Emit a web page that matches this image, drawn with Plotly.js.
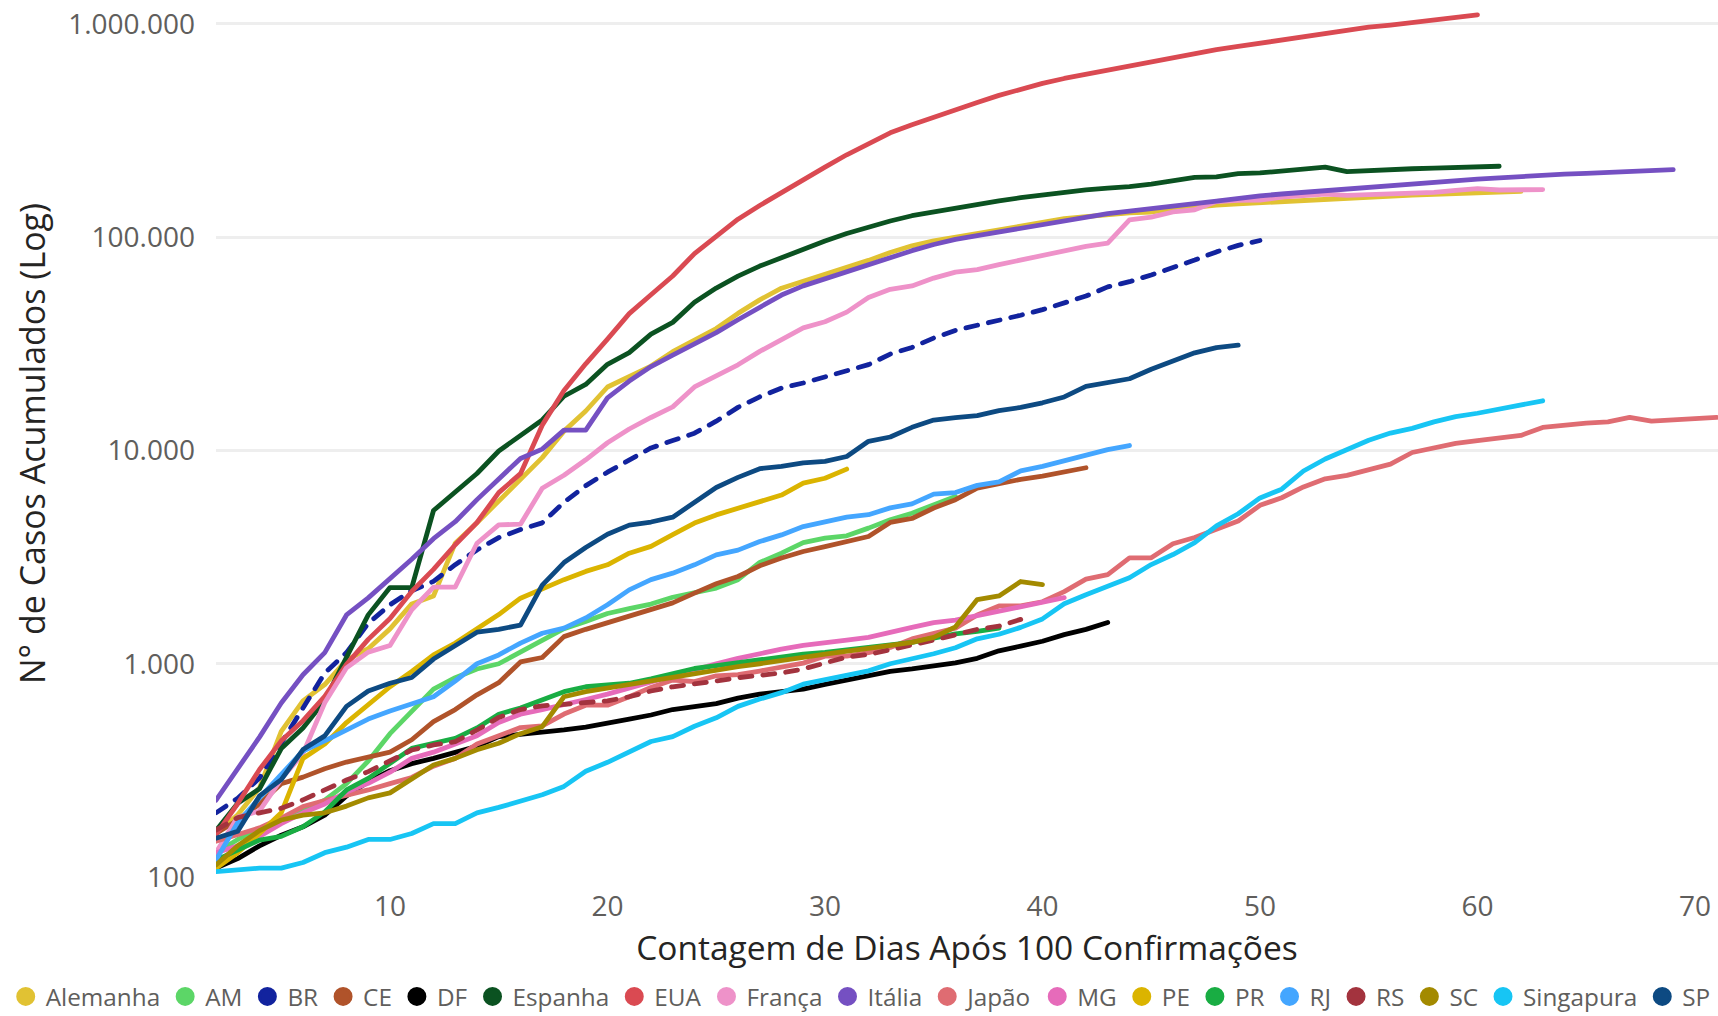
<!DOCTYPE html>
<html>
<head>
<meta charset="utf-8">
<script src="https://cdn.plot.ly/plotly-3.0.1.min.js"></script>
<style>
html,body{margin:0;padding:0;background:#ffffff;}
#chart{width:1718px;height:1016px;}
#chart .scatterlayer .js-line{stroke-linecap:round;stroke-linejoin:round;}
</style>
</head>
<body>
<div id="chart"></div>
<script>
// Day count of the first value in every series (x = day after 100 confirmations)
const START_DAY = 2;

// Cumulative confirmed cases, one value per day starting at START_DAY
const alemanha = [159,196,262,482,670,799,1040,1176,1457,1908,2078,3675,4585,5795,7272,9257,12327,15320,19848,22213,24873,29056,32986,37323,43938,50871,57695,62095,66885,71808,77872,84794,91159,96092,100123,103374,107663,113296,118181,122171,124908,127854,130072,131359,134753,137698,141397,143342,145184,147065,148291,150648,153129,154999,156513,157770,158758,159912,161539,163009,164077];
const am = [130,150,168,188,205,229,274,350,470,600,760,860,945,1000,1130,1290,1460,1580,1720,1815,1905,2050,2144,2265,2479,2985,3300,3700,3880,3980,4325,4730,5083,5560,6080];
const br = [200,234,291,428,621,904,1128,1546,1891,2201,2433,2915,3417,3904,4256,4579,5717,6836,7910,9056,10278,11130,12056,13717,15927,17857,19638,20727,22169,23430,25262,28320,30425,33682,36599,38654,40581,43079,45757,49492,52995,58509,61888,66501,71886,78162,85380,91589,96559];
const ce = [160,185,220,274,294,322,346,365,385,440,535,610,715,815,1020,1070,1340,1450,1560,1660,1790,1930,2144,2370,2565,2880,3130,3360,3545,3740,3950,4600,4800,5375,5880,6660,7015,7325,7580,7900,8300];
const df = [110,122,140,157,172,195,240,280,315,340,360,385,410,455,465,478,490,505,525,550,575,610,630,650,690,720,740,760,800,840,875,920,945,975,1010,1060,1150,1210,1275,1370,1450,1560];
const espanha = [165,222,259,400,500,673,1073,1695,2277,2277,5232,6391,7798,9942,11748,13910,17963,20410,25374,28768,35136,39885,49515,57786,65719,73235,80110,87956,95923,104118,112065,119199,126168,131646,136675,141942,148220,153222,158273,163027,166831,170099,172541,177644,184948,190839,191726,198674,200210,204178,208389,213024,202990,205905,207634,209465,210773,212917,213435,215216];
const eua = [158,221,319,435,541,704,994,1301,1630,2183,2770,3613,4596,6344,7787,13148,19101,25493,33276,43847,53740,65778,83836,101657,121465,140909,161831,188172,213242,243622,275367,308650,336802,366317,397121,428654,462780,496535,526396,555313,580619,607670,636350,667592,699706,732197,759086,784326,811865,840351,869170,905358,938154,965785,988197,1012582,1039909,1069424,1103461];
const franca = [130,191,204,288,380,656,957,1134,1217,1792,2289,2289,3672,4480,4513,6650,7652,9043,10871,12612,14282,16018,19856,22304,25233,29155,32964,37575,40174,44550,52128,56989,59105,64338,68605,70478,74390,78167,82048,86334,90676,93790,120633,124298,131361,134582,147091,149130,149149,154097,156480,159297,157125,158303,159952,161644,162220,165963,169053,166543,167299,167305];
const italia = [229,322,453,655,888,1128,1694,2036,2502,3089,3858,4636,5883,7375,9172,10149,12462,12462,17660,21157,24747,27980,31506,35713,41035,47021,53578,59138,63927,69176,74386,80589,86498,92472,97689,101739,105792,110574,115242,119827,124632,128948,132547,135586,139422,143626,147577,152271,156363,159516,162488,165155,168941,172434,175925,178972,181228,183957,187327,189973,192994,195351,197675,199414,201505,203591,205463,207428];
const japao = [147,159,170,189,214,228,241,256,274,293,331,360,420,461,502,511,581,639,639,701,773,839,825,878,889,924,963,1007,1086,1086,1128,1193,1307,1387,1468,1693,1866,1866,1953,2178,2495,2617,3139,3139,3654,3906,4257,4667,5530,6005,6748,7370,7645,8100,8626,9787,10296,10797,11135,11512,11772,12829,13182,13441,13614,14300,13740,13900,14090,14300];
const mg = [130,140,155,178,200,220,250,275,310,360,385,420,460,530,580,610,640,680,720,770,820,880,935,1000,1060,1120,1170,1220,1250,1290,1330,1410,1480,1560,1600,1680,1760,1850,1950,2040];
const pe = [110,130,160,200,360,420,530,640,780,920,1100,1250,1450,1700,2030,2250,2480,2710,2910,3300,3550,4030,4570,4990,5360,5750,6180,7030,7410,8180];
const pr = [120,134,149,155,172,202,256,290,341,401,424,447,500,580,620,676,740,780,800,810,850,900,950,980,1010,1040,1080,1110,1130,1160,1185,1220,1260,1320,1380,1420,1470];
const rj = [120,180,235,300,390,435,490,550,600,650,700,830,1000,1100,1250,1390,1470,1640,1890,2220,2480,2660,2910,3240,3410,3740,4020,4400,4650,4870,5000,5380,5620,6240,6350,6860,7130,8030,8430,8940,9500,10100,10550];
const rs = [166,190,200,210,230,256,285,312,353,394,416,431,489,560,610,635,645,655,670,700,745,780,800,830,860,885,905,945,1007,1075,1105,1160,1228,1290,1367,1450,1500,1615];
const sc = [114,140,165,185,195,200,215,235,248,290,335,360,395,424,470,507,700,740,770,800,830,860,900,935,970,1000,1030,1070,1110,1140,1180,1220,1260,1330,1490,2000,2080,2430,2350];
const singapura = [106,108,110,110,117,130,138,150,150,160,178,178,200,212,226,243,266,313,345,385,432,455,509,558,631,683,732,802,844,879,926,1000,1049,1114,1189,1309,1375,1481,1623,1910,2108,2299,2532,2918,3252,3699,4427,5050,5992,6588,8014,9125,10141,11178,12075,12693,13624,14423,14951,15641,16169,17101];
const sp = [152,164,240,286,396,459,631,745,810,862,1052,1223,1406,1451,1517,2339,2981,3506,4048,4466,4620,4866,5682,6708,7480,8216,8419,8755,8895,9371,11043,11568,12841,13894,14267,14580,15385,15914,16740,17826,20004,20715,21696,24041,26158,28698,30374,31174];

// Series names (legend order) and tick labels
const NAMES = ['Alemanha','AM','BR','CE','DF','Espanha','EUA','França','Itália','Japão','MG','PE','PR','RJ','RS','SC','Singapura','SP'];
const VALUES = [alemanha, am, br, ce, df, espanha, eua, franca, italia, japao, mg, pe, pr, rj, rs, sc, singapura, sp];
const X_TICKS = [10,20,30,40,50,60,70];
const Y_TICKS = [100,1000,10000,100000,1000000];
const Y_TICK_LABELS = ['100','1.000','10.000','100.000','1.000.000'];

// Styles
const COLORS = {
  'Alemanha':'#E1C233','AM':'#5CD667','BR':'#12239E','CE':'#B0532A','DF':'#000000',
  'Espanha':'#0B5221','EUA':'#DA4A52','França':'#EE92C9','Itália':'#7550C2','Japão':'#DF6C72',
  'MG':'#E66BBA','PE':'#DBB400','PR':'#19AD43','RJ':'#44A6FF','RS':'#A3333E',
  'SC':'#A38A00','Singapura':'#17C5F4','SP':'#0D4A82'
};
const DASHES = {'BR':'12px,11px','RS':'12px,11px'};

const traces = [];
NAMES.forEach((name, k) => {
  const vals = VALUES[k];
  traces.push({
    type:'scatter', mode:'lines', name:name, legendgroup:name, showlegend:false,
    x: vals.map((_, i) => START_DAY + i), y: vals,
    line:{color:COLORS[name], width:4.8, dash:DASHES[name] || 'solid'},
    hoverinfo:'x+y+name'
  });
});
NAMES.forEach((name) => {
  traces.push({
    type:'scatter', mode:'markers', name:name, legendgroup:name, showlegend:true,
    x:[null], y:[null],
    marker:{color:COLORS[name], size:16, line:{color:COLORS[name], width:3}},
    hoverinfo:'skip'
  });
});

const layout = {
  width:1718, height:1016,
  margin:{l:216, r:0, t:10, b:139, pad:0, autoexpand:false},
  paper_bgcolor:'#ffffff', plot_bgcolor:'#ffffff',
  font:{family:'"Open Sans", "Noto Sans", sans-serif', color:'#605E5C'},
  showlegend:true,
  xaxis:{
    range:[2, 71.06], tickvals:X_TICKS, showgrid:false, zeroline:false, showline:false,
    ticks:'', tickfont:{size:28, color:'#605E5C'}, ticklabelstandoff:10, automargin:false,
    title:{text:'Contagem de Dias Após 100 Confirmações', font:{size:33.5, color:'#252423'}, standoff:0}
  },
  yaxis:{
    type:'log', range:[2, 6.0656], tickvals:Y_TICKS, ticktext:Y_TICK_LABELS,
    showgrid:true, gridcolor:'#EEEEEE', gridwidth:2.5, zeroline:false, showline:false,
    ticks:'', tickfont:{size:28, color:'#605E5C'}, ticklabelstandoff:20, automargin:false,
    title:{text:'N° de Casos Acumulados (Log)', font:{size:34, color:'#252423'}, standoff:12}
  },
  legend:{
    orientation:'h', x:-0.14, xanchor:'left', y:-0.112, yanchor:'top',
    font:{size:24.3, color:'#605E5C'}, itemwidth:30, bgcolor:'rgba(0,0,0,0)', borderwidth:0
  }
};

Plotly.newPlot('chart', traces, layout, {displayModeBar:false, responsive:false});
</script>
</body>
</html>
